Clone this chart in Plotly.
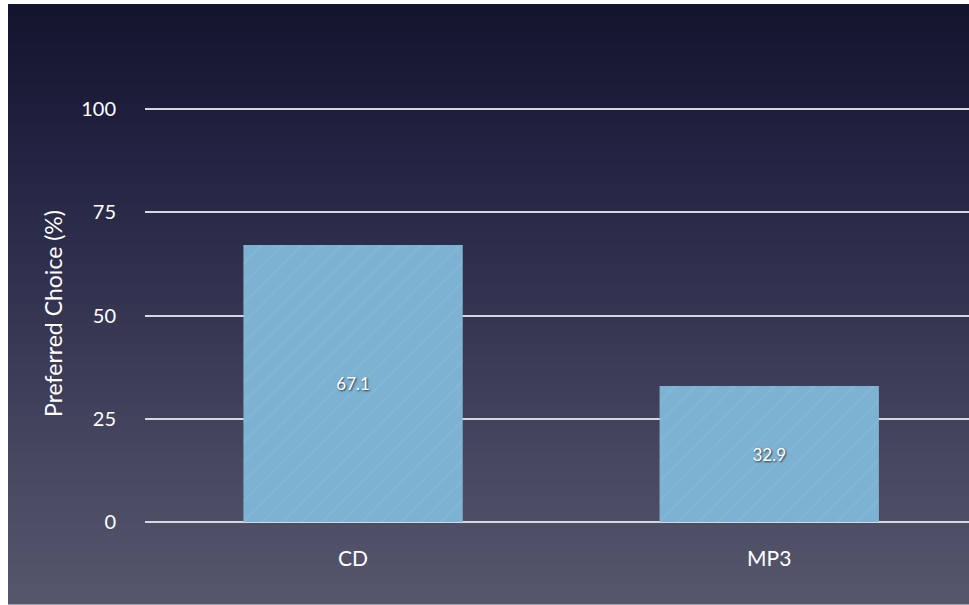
import plotly.graph_objects as go

categories = ["CD", "MP3"]
values = [67.1, 32.9]
tick_vals = [0, 25, 50, 75, 100]
tick_text = ["0", "25", "50", "75", "100"]

W, H = 969, 605
ML, MR, MT, MB = 145, 0, 105, 83
plot_h = H - MT - MB
plot_w = W - ML - MR
y_top = plot_h / 4.13  # keep 100 at the same place while leaving room for its gridline

def py2paper(py):
    return (H - MB - py) / plot_h

def px2paper(px):
    return (px - ML) / plot_w

# background gradient (dark navy top -> greyish violet bottom)
stops = [(0.0, (20, 20, 46)), (0.25, (34, 34, 66)), (0.5, (52, 52, 82)),
         (0.75, (70, 70, 96)), (1.0, (86, 86, 108))]
def col(t):
    for i in range(len(stops) - 1):
        t0, c0 = stops[i]
        t1, c1 = stops[i + 1]
        if t0 <= t <= t1:
            f = (t - t0) / (t1 - t0)
            return "rgb(%d,%d,%d)" % tuple(round(c0[k] + (c1[k] - c0[k]) * f) for k in range(3))
    return "rgb(%d,%d,%d)" % stops[-1][1]

shapes = []
top, bot = 4, 604
n = 60
for i in range(n):
    y0 = top + (bot - top) * i / n
    y1 = top + (bot - top) * (i + 1) / n + 0.6
    shapes.append(dict(type="rect", xref="paper", yref="paper",
                       x0=px2paper(8), x1=px2paper(W + 2),
                       y0=py2paper(y1), y1=py2paper(y0),
                       fillcolor=col((i + 0.5) / n), line=dict(width=0),
                       layer="below"))

fig = go.Figure()
fig.add_trace(go.Bar(
    x=categories, y=values,
    text=[f"{v:.1f}" for v in values],
    textposition="inside", insidetextanchor="middle",
    textfont=dict(family="Lato, sans-serif", size=17, color="white",
                  shadow="1px 1px 2px rgba(0,0,0,0.7)"),
    marker=dict(color="rgb(126,178,210)", line=dict(width=0),
                pattern=dict(shape="/", fgcolor="rgba(175,220,228,0.22)",
                             size=14, solidity=0.15)),
    width=0.527,
    hoverinfo="skip",
))

fig.update_layout(
    width=W, height=H,
    margin=dict(l=ML, r=MR, t=MT, b=MB),
    paper_bgcolor="white",
    plot_bgcolor="rgba(0,0,0,0)",
    shapes=shapes,
    showlegend=False,
    font=dict(family="Lato, sans-serif", color="white"),
)
fig.update_xaxes(
    range=[-0.5, 1.48], showgrid=False, zeroline=False, showline=False,
    ticks="outside", ticklen=18, tickcolor="rgba(0,0,0,0)",
    tickfont=dict(size=21, color="white", family="Lato, sans-serif"),
    fixedrange=True,
)
fig.update_yaxes(
    range=[0, y_top], tickvals=tick_vals, ticktext=tick_text,
    showgrid=True, gridcolor="rgb(215,215,225)", gridwidth=2,
    zeroline=True, zerolinecolor="rgb(215,215,225)", zerolinewidth=2,
    showline=False,
    ticks="outside", ticklen=24, tickcolor="rgba(0,0,0,0)",
    tickfont=dict(size=20, color="white", family="Lato, sans-serif"),
    title=dict(text="Preferred Choice (%)", standoff=12,
               font=dict(size=23, color="white", family="Lato, sans-serif")),
    fixedrange=True,
)

fig.write_html("out.html")
